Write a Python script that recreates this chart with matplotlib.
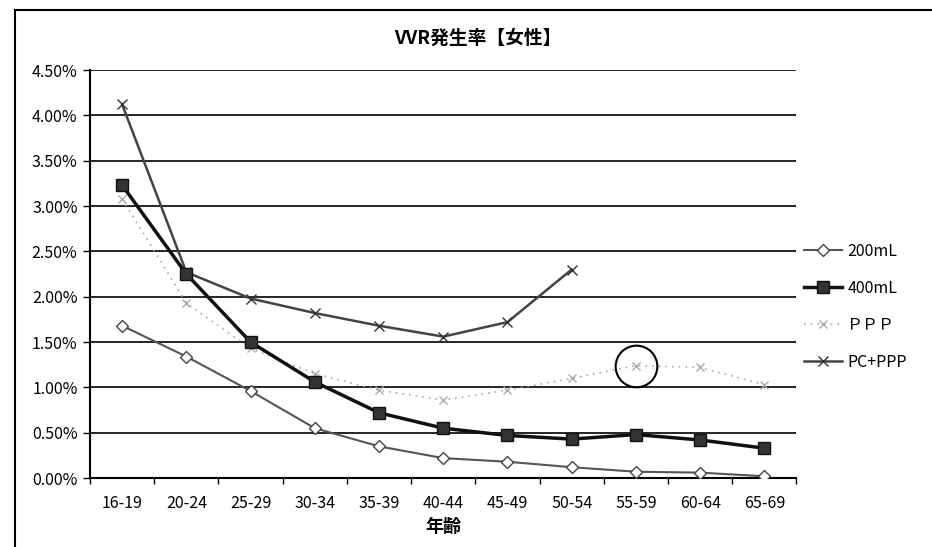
import numpy as np
import matplotlib.pyplot as plt
from matplotlib.lines import Line2D
from matplotlib.ticker import FuncFormatter, FixedLocator

plt.rcParams['font.family'] = ['Noto Sans CJK JP', 'DejaVu Sans']

ages = ['16-19', '20-24', '25-29', '30-34', '35-39', '40-44',
        '45-49', '50-54', '55-59', '60-64', '65-69']
ml200 = [1.68, 1.34, 0.96, 0.55, 0.35, 0.22, 0.18, 0.12, 0.07, 0.06, 0.02]
ml400 = [3.23, 2.25, 1.50, 1.06, 0.72, 0.55, 0.47, 0.43, 0.48, 0.42, 0.33]
ppp = [3.08, 1.93, 1.43, 1.15, 0.97, 0.86, 0.97, 1.10, 1.24, 1.22, 1.03]
pc_ppp = [4.12, 2.27, 1.98, 1.82, 1.68, 1.56, 1.72, 2.30]

fig = plt.figure(figsize=(9.32, 5.47), dpi=100)
ax = fig.add_axes([0.0966, 0.126, 0.758, 0.746])

x = np.arange(len(ages))
ax.plot(x, ml200, color='#555555', lw=1.5, marker='D', ms=6,
        mfc='white', mec='#444444', label='200mL', zorder=4)
ax.plot(x, ml400, color='#111111', lw=2.5, marker='s', ms=9,
        mfc='#333333', mec='#111111', label='400mL', zorder=5)
ax.plot(x, ppp, color='#aaaaaa', lw=1.2, ls=(0, (1, 3)), marker='x', ms=6,
        mec='#aaaaaa', label='ＰＰＰ', zorder=3)
ax.plot(np.arange(len(pc_ppp)), pc_ppp, color='#444444', lw=1.8,
        marker='x', ms=7, mec='#333333', label='PC+PPP', zorder=4)

# the circled point
ax.plot([8], [1.24], 'o', ms=30, mfc='none', mec='black', mew=1.5, zorder=6)

ax.set_xlim(-0.5, len(ages) - 0.5)
ax.set_ylim(0, 4.5)
ax.set_yticks(np.arange(0, 4.51, 0.5))
ax.yaxis.set_major_formatter(FuncFormatter(lambda v, p: f'{v:.2f}%'))
ax.set_xticks(x)
ax.set_xticklabels(ages)
ax.xaxis.set_minor_locator(FixedLocator(np.arange(-0.5, len(ages), 1)))
ax.tick_params(axis='x', which='major', length=0, pad=12, labelsize=11.5)
ax.tick_params(axis='x', which='minor', length=4, width=1, color='black')
ax.tick_params(axis='y', length=5, width=1, labelsize=11.5, direction='out', pad=4)
ax.grid(axis='y', color='black', lw=1.2)
ax.set_axisbelow(True)
for s in ['top', 'right']:
    ax.spines[s].set_visible(False)
ax.spines['left'].set_linewidth(1.5)
ax.spines['bottom'].set_linewidth(1.5)

fig.text(0.513, 0.93, 'VVR発生率【女性】', fontsize=13.5, fontweight='bold',
         ha='center', va='center')
ax.set_xlabel('年齢', fontsize=13, fontweight='bold', labelpad=4)

ax.legend(loc='center left', bbox_to_anchor=(0.995, 0.42), frameon=False,
          fontsize=11.5, handlelength=2.4, handletextpad=0.3,
          labelspacing=1.25, borderaxespad=0.3)

# chart frame (left and top edges of the scanned chart area)
fig.add_artist(Line2D([0.016, 0.016], [0.0, 0.982], color='black', lw=1.5))
fig.add_artist(Line2D([0.016, 1.0], [0.982, 0.982], color='black', lw=1.5))

fig.savefig('out.png', dpi=100)
